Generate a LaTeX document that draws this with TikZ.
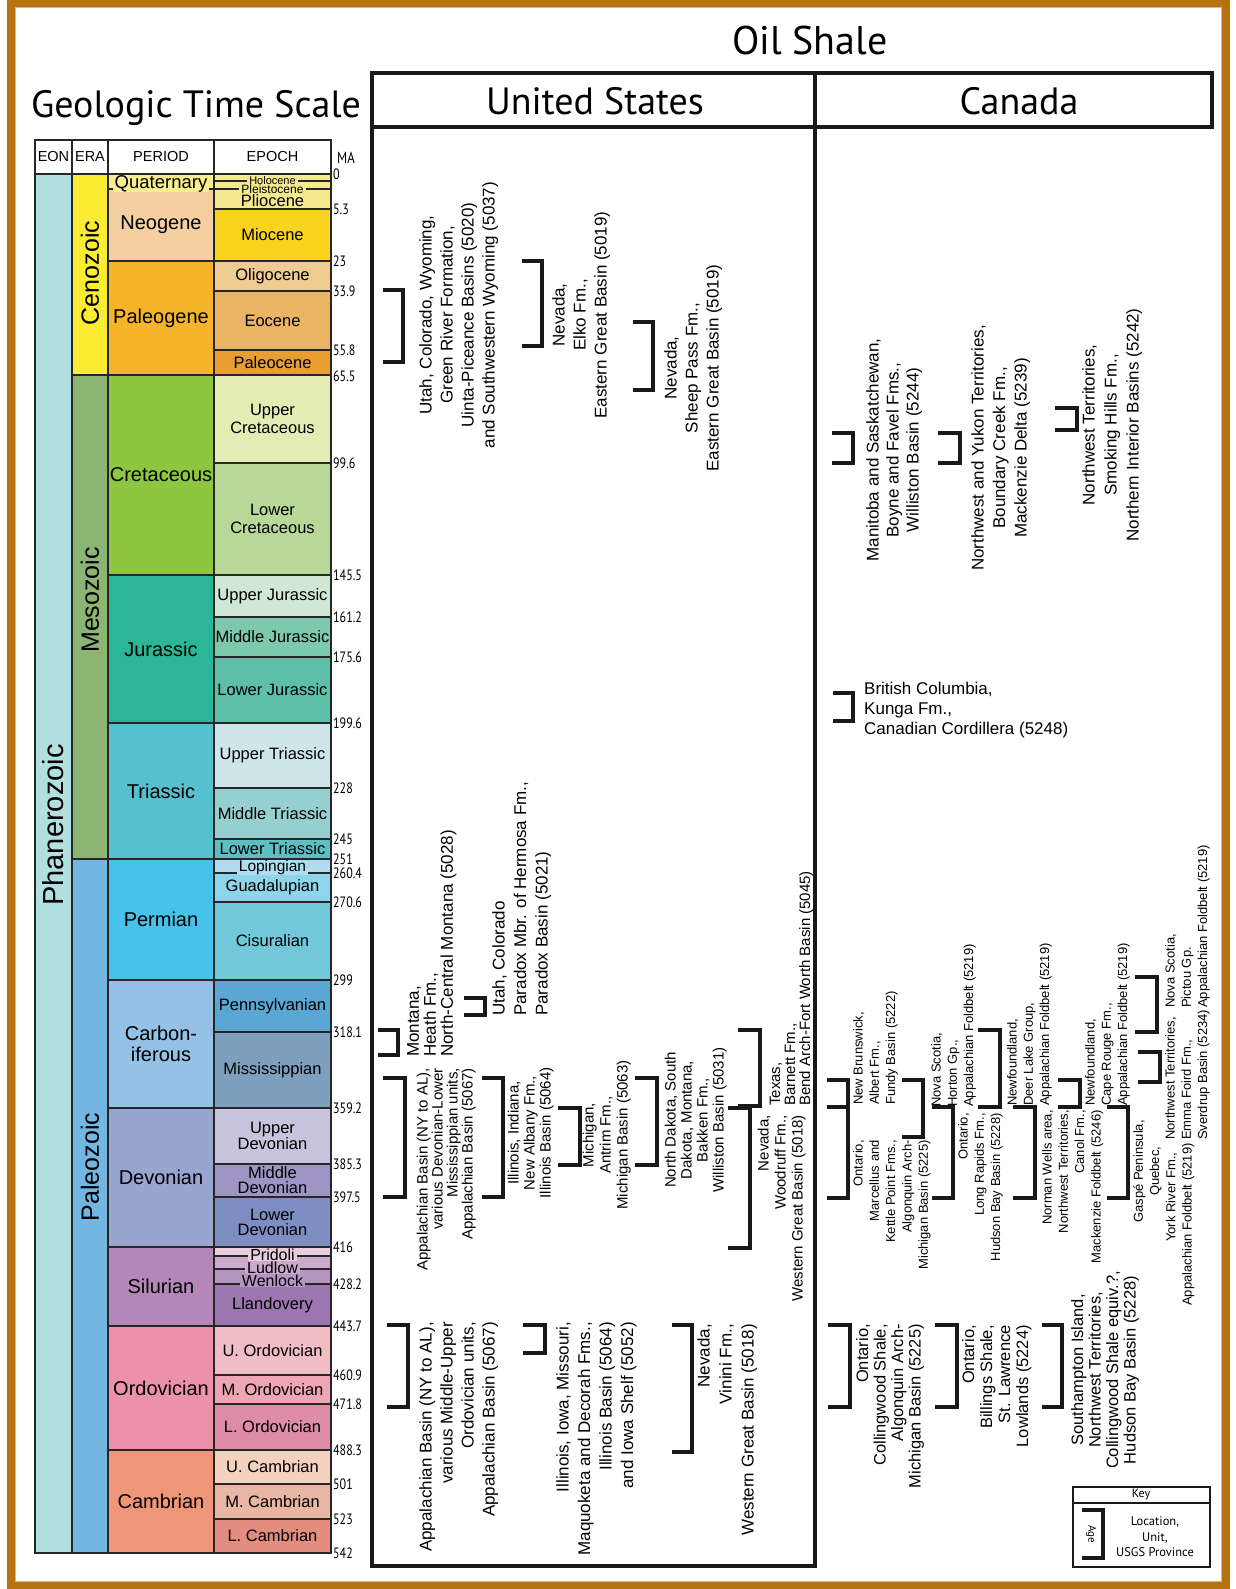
\documentclass[tikz,border=0pt]{standalone}
\usepackage{fontspec}
\setmainfont{Liberation Sans}
\newfontfamily\myriad{PT Sans}
\newfontfamily\myriadnarrow[FakeStretch=0.8]{PT Sans}
\definecolor{framebrown}{HTML}{B5730F}
\definecolor{frametan}{HTML}{DDB47E}
\definecolor{phan}{HTML}{B2DFE0}
\definecolor{ceno}{HTML}{F9EC31}
\definecolor{meso}{HTML}{8CB573}
\definecolor{paleo}{HTML}{73B6E1}
\definecolor{quat}{HTML}{F8EE91}
\definecolor{neog}{HTML}{F3CFA2}
\definecolor{paleog}{HTML}{F6B42A}
\definecolor{plio}{HTML}{F6E88E}
\definecolor{mio}{HTML}{F8D41F}
\definecolor{olig}{HTML}{EDCB91}
\definecolor{eoc}{HTML}{EAB464}
\definecolor{paleoc}{HTML}{E99E34}
\definecolor{cret}{HTML}{8DC640}
\definecolor{ucret}{HTML}{E3EDB3}
\definecolor{lcret}{HTML}{B8D898}
\definecolor{jur}{HTML}{2BB697}
\definecolor{ujur}{HTML}{CFE7D4}
\definecolor{mjur}{HTML}{7DC9AE}
\definecolor{ljur}{HTML}{5DBFA8}
\definecolor{tri}{HTML}{55C1CE}
\definecolor{utri}{HTML}{CEE6EA}
\definecolor{mtri}{HTML}{96CFD0}
\definecolor{ltri}{HTML}{5BBFC4}
\definecolor{perm}{HTML}{46C2EB}
\definecolor{lop}{HTML}{AEDDEF}
\definecolor{guad}{HTML}{8ED4EA}
\definecolor{cis}{HTML}{72C8D8}
\definecolor{carb}{HTML}{94C1E5}
\definecolor{penn}{HTML}{5AA7D4}
\definecolor{miss}{HTML}{7F9FBE}
\definecolor{dev}{HTML}{98A5CE}
\definecolor{udev}{HTML}{C8C4DD}
\definecolor{mdev}{HTML}{9E95C4}
\definecolor{ldev}{HTML}{7F8EC2}
\definecolor{sil}{HTML}{B388B9}
\definecolor{prid}{HTML}{E8CDDD}
\definecolor{lud}{HTML}{CBAACE}
\definecolor{wen}{HTML}{B696C0}
\definecolor{lland}{HTML}{9C76AE}
\definecolor{ord}{HTML}{EC92A8}
\definecolor{uord}{HTML}{F0BDC4}
\definecolor{mord}{HTML}{EEA6B5}
\definecolor{lord}{HTML}{DF8CA8}
\definecolor{camb}{HTML}{EF957A}
\definecolor{ucamb}{HTML}{F5D1C0}
\definecolor{mcamb}{HTML}{E8B6A2}
\definecolor{lcamb}{HTML}{E28D80}
\tikzstyle{tsline} = [draw=black!85, line width=1.3pt]
\tikzstyle{periodlbl} = [align=center, inner sep=0pt, font=\fontsize{20}{21}\selectfont]
\tikzstyle{epochlbl} = [align=center, inner sep=0pt, font=\fontsize{16.5}{15}\selectfont]
\tikzstyle{rulelbl} = [inner xsep=2pt, inner ysep=0pt]
\tikzstyle{eralbl} = [rotate=90, inner sep=0pt, font=\fontsize{25}{25}\selectfont]
\tikzstyle{headlbl} = [inner sep=0pt, font=\fontsize{14.5}{14.5}\selectfont]
\tikzstyle{malbl} = [anchor=west, inner sep=0pt, font=\myriadnarrow\fontsize{15}{15}\selectfont]
\tikzstyle{bigtitle} = [inner sep=0pt, font=\myriad\fontsize{38}{38}\selectfont]
\tikzstyle{agestroke} = [line width=4.5pt, black!90]
\tikzstyle{locA} = [rotate=90, inner sep=0pt, font=\fontsize{17}{21}\selectfont]
\tikzstyle{locB} = [rotate=90, inner sep=0pt, font=\fontsize{15}{16}\selectfont]
\tikzstyle{locC} = [rotate=90, inner sep=0pt, font=\fontsize{13}{16.3}\selectfont]
\tikzstyle{locD} = [rotate=90, inner sep=0pt, font=\fontsize{16.5}{17.5}\selectfont]
\newcommand{\tsband}[5]{\filldraw[tsline, fill=#5] (#1,#3) rectangle (#2,#4);}
\newcommand{\periodbox}[5]{\tsband{108}{214}{#1}{#2}{#3}\node[periodlbl] (#4) at (161,{(#1+#2)/2}) {#5};}
\newcommand{\epochbox}[5]{\tsband{214}{331}{#1}{#2}{#3}\node[epochlbl] (#4) at (272.5,{(#1+#2)/2}) {#5};}
\newcommand{\malabel}[3]{\node[malbl] (#1) at (333,#2) {#3};}
\newcommand{\agebar}[4]{\draw[agestroke] (#1,#3) -| (#2,#4) -- (#1,#4);}

\begin{document}
\begin{tikzpicture}[x=1pt, y=-1pt]
	\useasboundingbox (0,0) rectangle (1235,1589);
	\fill[white] (0,0) rectangle (1235,1589);
	\draw[framebrown, line width=8pt] (11,3.5) rectangle (1226,1585.5);
	\draw[frametan, line width=1pt] (15.5,8) rectangle (1221.5,1581);
	\node[bigtitle, font=\myriad\fontsize{40}{40}\selectfont] (oilshale) at (810,41) {Oil Shale};
	\node[bigtitle, font=\myriad\fontsize{38}{38}\selectfont] (timescale) at (196,108) {Geologic Time Scale};
	% time scale
	\filldraw[tsline, fill=white] (35,140) rectangle (72,174);
	\filldraw[tsline, fill=white] (72,140) rectangle (108,174);
	\filldraw[tsline, fill=white] (108,140) rectangle (214,174);
	\filldraw[tsline, fill=white] (214,140) rectangle (331,174);
	\node[headlbl] (eon) at (53.5,157) {EON};
	\node[headlbl] (era) at (90,157) {ERA};
	\node[headlbl] (period) at (161,157) {PERIOD};
	\node[headlbl] (epoch) at (272.5,157) {EPOCH};
	\node[headlbl, font=\myriadnarrow\fontsize{16}{16}\selectfont] (mahead) at (346,158) {MA};
	\filldraw[tsline, fill=phan] (35,174) rectangle (72,1553);
	\filldraw[tsline, fill=ceno] (72,174) rectangle (108,375);
	\filldraw[tsline, fill=meso] (72,375) rectangle (108,859);
	\filldraw[tsline, fill=paleo] (72,859) rectangle (108,1553);
	\node[eralbl, font=\fontsize{29}{29}\selectfont] (phanerozoic) at (53,825) {Phanerozoic};
	\node[eralbl] (cenozoic) at (90,273) {Cenozoic};
	\node[eralbl] (mesozoic) at (90,600) {Mesozoic};
	\node[eralbl] (paleozoic) at (90,1167) {Paleozoic};
	\tsband{108}{214}{174}{189}{quat}
	\periodbox{189}{261}{neog}{neogene}{Neogene}
	\periodbox{261}{375}{paleog}{paleogene}{Paleogene}
	\periodbox{375}{575}{cret}{cretaceous}{Cretaceous}
	\periodbox{575}{723}{jur}{jurassic}{Jurassic}
	\periodbox{723}{859}{tri}{triassic}{Triassic}
	\periodbox{859}{980}{perm}{permian}{Permian}
	\periodbox{980}{1108}{carb}{carboniferous}{Carbon-\\iferous}
	\periodbox{1108}{1247}{dev}{devonian}{Devonian}
	\periodbox{1247}{1326}{sil}{silurian}{Silurian}
	\periodbox{1326}{1450}{ord}{ordovician}{Ordovician}
	\periodbox{1450}{1553}{camb}{cambrian}{Cambrian}
	\tsband{214}{331}{174}{209}{plio}
	\draw[tsline] (214,181) -- (331,181);
	\draw[tsline] (214,189) -- (331,189);
	\epochbox{209}{261}{mio}{miocene}{Miocene}
	\epochbox{261}{291}{olig}{oligocene}{Oligocene}
	\epochbox{291}{350}{eoc}{eocene}{Eocene}
	\epochbox{350}{375}{paleoc}{paleocene}{Paleocene}
	\tsband{214}{331}{375}{463}{ucret}
	\node[epochlbl, font=\fontsize{16.5}{17.5}\selectfont] (ucretlbl) at (272.5,419) {Upper\\Cretaceous};
	\tsband{214}{331}{463}{575}{lcret}
	\node[epochlbl, font=\fontsize{16.5}{17.5}\selectfont] (lcretlbl) at (272.5,519) {Lower\\Cretaceous};
	\epochbox{575}{617}{ujur}{ujurlbl}{Upper Jurassic}
	\epochbox{617}{657}{mjur}{mjurlbl}{Middle Jurassic}
	\epochbox{657}{723}{ljur}{ljurlbl}{Lower Jurassic}
	\epochbox{723}{788}{utri}{utrilbl}{Upper Triassic}
	\epochbox{788}{839}{mtri}{mtrilbl}{Middle Triassic}
	\epochbox{839}{859}{ltri}{ltrilbl}{Lower Triassic}
	\tsband{214}{331}{859}{873}{lop}
	\epochbox{873}{902}{guad}{guadalupian}{Guadalupian}
	\epochbox{902}{980}{cis}{cisuralian}{Cisuralian}
	\epochbox{980}{1032}{penn}{pennsylvanian}{Pennsylvanian}
	\epochbox{1032}{1108}{miss}{mississippian}{Mississippian}
	\epochbox{1108}{1164}{udev}{udevlbl}{Upper\\Devonian}
	\epochbox{1164}{1197}{mdev}{mdevlbl}{Middle\\Devonian}
	\epochbox{1197}{1247}{ldev}{ldevlbl}{Lower\\Devonian}
	\tsband{214}{331}{1247}{1256}{prid}
	\tsband{214}{331}{1256}{1269}{lud}
	\tsband{214}{331}{1269}{1284}{wen}
	\epochbox{1284}{1326}{lland}{llandovery}{Llandovery}
	\epochbox{1326}{1375}{uord}{uordlbl}{U. Ordovician}
	\epochbox{1375}{1404}{mord}{mordlbl}{M. Ordovician}
	\epochbox{1404}{1450}{lord}{lordlbl}{L. Ordovician}
	\epochbox{1450}{1484}{ucamb}{ucamblbl}{U. Cambrian}
	\epochbox{1484}{1519}{mcamb}{mcamblbl}{M. Cambrian}
	\epochbox{1519}{1553}{lcamb}{lcamblbl}{L. Cambrian}
	\node[periodlbl, rulelbl, fill=quat, font=\fontsize{18.5}{18.5}\selectfont] (quaternary) at (161,183.5) {Quaternary};
	\node[epochlbl, rulelbl, fill=plio, font=\fontsize{11}{11}\selectfont] (holocene) at (272.5,180.5) {Holocene};
	\node[epochlbl, rulelbl, fill=plio, font=\fontsize{12}{12}\selectfont] (pleistocene) at (272.5,189.5) {Pleistocene};
	\node[epochlbl] (pliocene) at (272.5,201) {Pliocene};
	\node[epochlbl, rulelbl, fill=lop, font=\fontsize{15.5}{15.5}\selectfont] (lopingian) at (272.5,867.5) {Lopingian};
	\node[epochlbl, rulelbl, fill=prid, font=\fontsize{16}{16}\selectfont] (pridoli) at (272.5,1255) {Pridoli};
	\node[epochlbl, rulelbl, fill=lud, font=\fontsize{16}{16}\selectfont] (ludlow) at (272.5,1268) {Ludlow};
	\node[epochlbl, rulelbl, fill=wen, font=\fontsize{16}{16}\selectfont] (wenlock) at (272.5,1281) {Wenlock};
	\malabel{ma0}{174}{0}
	\malabel{ma5}{209}{5.3}
	\malabel{ma23}{261}{23}
	\malabel{ma34}{291}{33.9}
	\malabel{ma56}{350}{55.8}
	\malabel{ma65}{376}{65.5}
	\malabel{ma100}{463}{99.6}
	\malabel{ma145}{575}{145.5}
	\malabel{ma161}{617}{161.2}
	\malabel{ma176}{657}{175.6}
	\malabel{ma200}{723}{199.6}
	\malabel{ma228}{788}{228}
	\malabel{ma245}{839}{245}
	\malabel{ma251}{859}{251}
	\malabel{ma260}{873}{260.4}
	\malabel{ma271}{902}{270.6}
	\malabel{ma299}{980}{299}
	\malabel{ma318}{1032}{318.1}
	\malabel{ma359}{1108}{359.2}
	\malabel{ma385}{1164}{385.3}
	\malabel{ma398}{1197}{397.5}
	\malabel{ma416}{1247}{416}
	\malabel{ma428}{1284}{428.2}
	\malabel{ma444}{1326}{443.7}
	\malabel{ma461}{1375}{460.9}
	\malabel{ma472}{1404}{471.8}
	\malabel{ma488}{1450}{488.3}
	\malabel{ma501}{1484}{501}
	\malabel{ma523}{1519}{523}
	\malabel{ma542}{1553}{542}
	% panels
	\draw[black!90, line width=4pt] (372,73) rectangle (815,1566);
	\draw[black!90, line width=4pt] (372,127) -- (815,127);
	\draw[black!90, line width=4pt] (815,73) rectangle (1212,127);
	\node[bigtitle] (unitedstates) at (595,101) {United States};
	\node[bigtitle] (canada) at (1019,101) {Canada};
	% united states
	\agebar{383}{403}{290}{362}
	\node[locA, align=center, anchor=north] (greenriver) at (419,315) {Utah, Colorado, Wyoming,\\Green River Formation,\\Uinta-Piceance Basins (5020)\\and Southwestern Wyoming (5037)};
	\agebar{522}{542}{261}{346}
	\node[locA, align=center, anchor=north] (elko) at (552,315) {Nevada,\\Elko Fm.,\\Eastern Great Basin (5019)};
	\agebar{633}{653}{322}{390}
	\node[locA, align=center, anchor=north] (sheeppass) at (664,368) {Nevada,\\Sheep Pass Fm.,\\Eastern Great Basin (5019)};
	\agebar{378}{398}{1030}{1055}
	\node[locA, font=\fontsize{17}{17}\selectfont, align=left, anchor=north west] (heath) at (407,1057) {Montana,\\Heath Fm.,\\North-Central Montana (5028)};
	\agebar{464}{485}{998}{1015}
	\node[locA, font=\fontsize{17}{21.5}\selectfont, align=left, anchor=north west] (paradox) at (492,1016) {Utah, Colorado\\Paradox Mbr. of Hermosa Fm.,\\Paradox Basin (5021)};
	\agebar{383}{405}{1078}{1197}
	\node[locB, font=\fontsize{15}{15}\selectfont, align=right, anchor=north east] (appdev) at (416.5,1068) {Appalachian Basin (NY to AL),\\various Devonian-Lower\\Mississippian units,\\Appalachian Basin (5067)};
	\agebar{482}{503}{1078}{1197}
	\node[locB, align=center, anchor=north] (newalbany) at (507.5,1133) {Illinois, Indiana,\\New Albany Fm.,\\Illinois Basin (5064)};
	\agebar{558}{580}{1108}{1165}
	\node[locB, font=\fontsize{15}{17}\selectfont, align=center, anchor=north] (antrim) at (582.5,1135) {Michigan,\\Antrim Fm.,\\Michigan Basin (5063)};
	\agebar{635}{657}{1078}{1165}
	\node[locB, align=center, anchor=north] (bakken) at (664.5,1120) {North Dakota, South\\Dakota, Montana,\\Bakken Fm.,\\Williston Basin (5031)};
	\agebar{728}{750}{1108}{1248}
	\node[locB, font=\fontsize{15}{17}\selectfont, align=right, anchor=north east] (woodruff) at (757.5,1115) {Nevada,\\Woodruff Fm.,\\Western Great Basin (5018)};
	\agebar{738}{760}{1030}{1106}
	\node[locB, font=\fontsize{15}{15}\selectfont, align=left, anchor=north west] (barnett) at (769.5,1106) {Texas,\\Barnett Fm.,\\Bend Arch-Fort Worth Basin (5045)};
	\agebar{387}{408}{1325}{1407}
	\node[locA, align=right, anchor=north east] (appord) at (419,1322) {Appalachian Basin (NY to AL),\\various Middle-Upper\\Ordovician units,\\Appalachian Basin (5067)};
	\agebar{523}{545}{1325}{1353}
	\node[locA, font=\fontsize{17}{21.5}\selectfont, align=right, anchor=north east] (maquoketa) at (556,1322) {Illinois, Iowa, Missouri,\\Maquoketa and Decorah Fms.,\\Illinois Basin (5064)\\and Iowa Shelf (5052)};
	\agebar{672}{692}{1325}{1452}
	\node[locA, font=\fontsize{17}{22}\selectfont, align=right, anchor=north east] (vinini) at (697,1324) {Nevada,\\Vinini Fm.,\\Western Great Basin (5018)};
	% canada
	\agebar{832}{853}{433}{463}
	\node[locA, font=\fontsize{17}{20}\selectfont, align=center, anchor=north] (boyne) at (866,450) {Manitoba and Saskatchewan,\\Boyne and Favel Fms.,\\Williston Basin (5244)};
	\agebar{938}{960}{433}{463}
	\node[locA, font=\fontsize{17}{21.5}\selectfont, align=center, anchor=north] (boundary) at (971,448) {Northwest and Yukon Territories,\\Boundary Creek Fm.,\\Mackenzie Delta (5239)};
	\agebar{1055}{1077}{408}{430}
	\node[locA, font=\fontsize{17}{22}\selectfont, align=center, anchor=north] (smoking) at (1082,425) {Northwest Territories,\\Smoking Hills Fm.,\\Northern Interior Basins (5242)};
	\agebar{833}{853}{693}{721}
	\node[inner sep=0pt, font=\fontsize{17}{20}\selectfont, align=left, anchor=north west] (kunga) at (864,682) {British Columbia,\\Kunga Fm.,\\Canadian Cordillera (5248)};
	\agebar{827}{848}{1080}{1107}
	\node[locC, align=left, anchor=north west] (albert) at (853,1105) {New Brunswick,\\Albert Fm.,\\Fundy Basin (5222)};
	\agebar{827}{848}{1107}{1198}
	\node[locC, align=right, anchor=north east] (marcellus) at (853,1140) {Ontario,\\Marcellus and\\Kettle Point Fms.,\\Algonquin Arch-\\Michigan Basin (5225)};
	\agebar{902}{923}{1080}{1137}
	\node[locC, align=left, anchor=north west] (horton) at (931,1107) {Nova Scotia,\\Horton Gp.,\\Appalachian Foldbelt (5219)};
	\agebar{932}{953}{1107}{1198}
	\node[locC, align=right, anchor=north east] (longrapids) at (958,1113) {Ontario,\\Long Rapids Fm.,\\Hudson Bay Basin (5228)};
	\agebar{978}{1000}{1030}{1107}
	\node[locC, align=left, anchor=north west] (deerlake) at (1007,1106) {Newfoundland,\\Deer Lake Group,\\Appalachian Foldbelt (5219)};
	\agebar{1013}{1035}{1107}{1198}
	\node[locC, align=right, anchor=north east] (canol) at (1042,1110) {Norman Wells area,\\Northwest Territories,\\Canol Fm.,\\Mackenzie Foldbelt (5246)};
	\agebar{1058}{1080}{1080}{1107}
	\node[locC, align=left, anchor=north west] (caperouge) at (1085,1106) {Newfoundland,\\Cape Rouge Fm.,\\Appalachian Foldbelt (5219)};
	\agebar{1107}{1128}{1107}{1198}
	\node[locC, align=left, anchor=north west] (yorkriver) at (1133,1306) {\hspace*{83pt}Gasp\'e Peninsula,\\\hspace*{110pt}Quebec,\\\hspace*{64pt}York River Fm.,\\Appalachian Foldbelt (5219)};
	\agebar{1138}{1160}{1052}{1082}
	\node[locC, align=left, anchor=north west] (emmafoird) at (1165,1140) {Northwest Territories,\\Emma Foird Fm.,\\Sverdrup Basin (5234)};
	\agebar{1135}{1157}{977}{1032}
	\node[locC, align=left, anchor=north west] (pictou) at (1165,1008) {Nova Scotia,\\Pictou Gp.\\Appalachian Foldbelt (5219)};
	\agebar{828}{850}{1325}{1407}
	\node[locD, align=right, anchor=north east] (collingwood) at (856,1324) {Ontario,\\Collingwood Shale,\\Algonquin Arch-\\Michigan Basin (5225)};
	\agebar{935}{957}{1325}{1407}
	\node[locD, font=\fontsize{16.5}{18}\selectfont, align=right, anchor=north east] (billings) at (962,1325) {Ontario,\\Billings Shale,\\St. Lawrence\\Lowlands (5224)};
	\agebar{1042}{1062}{1325}{1407}
	\node[locD, align=center, anchor=north] (southampton) at (1071,1370) {Southampton Island,\\Northwest Territories,\\Collingwood Shale equiv.?,\\Hudson Bay Basin (5228)};
	% key
	\draw[black!90, line width=2pt] (1073,1487) rectangle (1210,1567);
	\draw[black!90, line width=2pt] (1073,1503) -- (1210,1503);
	\node[inner sep=0pt, font=\myriad\fontsize{12}{12}\selectfont] (key) at (1141,1495) {Key};
	\draw[black!90, line width=3.3pt] (1082,1510) -| (1103,1558) -- (1082,1558);
	\node[rotate=-90, inner sep=0pt, font=\myriad\fontsize{11}{11}\selectfont] (age) at (1091,1534) {Age};
	\node[inner sep=0pt, align=center, font=\myriad\fontsize{12.5}{15.5}\selectfont] (keytext) at (1155,1537) {Location,\\Unit,\\USGS Province};
\end{tikzpicture}
\end{document}
